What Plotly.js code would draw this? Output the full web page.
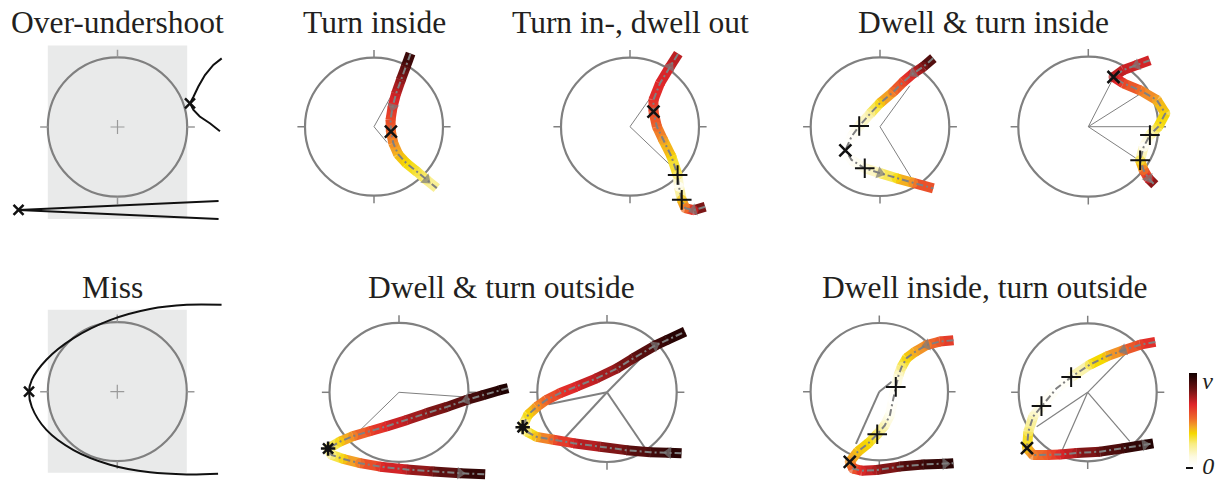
<!DOCTYPE html>
<html><head><meta charset="utf-8">
<script src="https://cdn.plot.ly/plotly-3.0.1.min.js"></script>
<style>html,body{margin:0;padding:0;background:#fff}#chart{width:1226px;height:481px}</style>
</head><body><div id="chart"></div>
<script>
// ================= DATA (unit = target circle radius) =================
const titles = ['Over-undershoot','Turn inside','Turn in-, dwell out','Dwell & turn inside','Miss','Dwell & turn outside','Dwell inside, turn outside'];

// Over-undershoot
const overArcX = [1.495,1.375,1.255,1.16,1.09,1.04,1.09,1.18,1.33,1.47];
const overArcY = [0.985,0.89,0.745,0.58,0.435,0.34,0.245,0.15,0.05,-0.06];
const underX = [1.45,-1.42,1.45];
const underY = [-1.06,-1.19,-1.32];
const overMarkX = [1.04,-1.42];
const overMarkY = [0.34,-1.19];
const overBoxX = [-1,1];
const overBoxY = [-1.32,1.17];

// Miss
const missX = [1.50,1.00,0.47,-0.105,-0.63,-1.02,-1.23,-1.27,-1.23,-1.02,-0.63,-0.105,0.47,1.00,1.45];
const missY = [1.25,1.25,1.19,1.03,0.77,0.46,0.17,0,-0.22,-0.55,-0.84,-1.05,-1.16,-1.19,-1.18];
const missMarkX = [-1.27];
const missMarkY = [0];
const missBoxX = [-1,1];
const missBoxY = [-1.165,1.18];

// Turn inside
const tiX = [0.53,0.46,0.39,0.32,0.27,0.24,0.245,0.28,0.35,0.47,0.62,0.76,0.91];
const tiY = [1.06,0.87,0.68,0.48,0.29,0.10,-0.07,-0.24,-0.40,-0.53,-0.65,-0.77,-0.89];
const tiV = [0.97,0.87,0.78,0.70,0.64,0.58,0.52,0.46,0.40,0.35,0.30,0.24,0.18];
const tiCrossX = [0.245], tiCrossY = [-0.07];
const tiSpokeX = [0.256,0.19], tiSpokeY = [0.46,-0.23];
const tiArrows = [4,11];

// Turn in-, dwell out
const tdX = [1.09,0.92,0.80,0.75,0.71,0.69,0.60,0.48,0.39,0.34,0.34,0.435,0.58,0.70];
const tdY = [-1.16,-1.21,-1.18,-1.06,-0.87,-0.70,-0.43,-0.19,0,0.22,0.39,0.63,0.87,1.06];
const tdV = [0.95,0.66,0.5,0.38,0.0,0.25,0.36,0.44,0.52,0.58,0.64,0.66,0.68,0.74];
const tdCrossX = [0.34], tdCrossY = [0.22];
const tdPlusX = [0.75,0.69], tdPlusY = [-1.06,-0.70];
const tdSpokeX = [0.31,0.65], tdSpokeY = [0.44,-0.62];
const tdArrows = [1,12];

// Dwell & turn inside (left)
const daX = [0.77,0.625,0.48,0.34,0.19,0,-0.14,-0.30,-0.41,-0.50,-0.41,-0.22,0,0.24,0.48,0.77];
const daY = [0.99,0.865,0.77,0.65,0.50,0.34,0.19,0.01,-0.14,-0.34,-0.48,-0.60,-0.67,-0.745,-0.81,-0.89];
const daV = [0.95,0.8,0.68,0.6,0.5,0.36,0.2,0.08,0.02,0,0.02,0.08,0.2,0.35,0.47,0.66];
const daCrossX = [-0.50], daCrossY = [-0.34];
const daPlusX = [-0.30,-0.22], daPlusY = [0.01,-0.60];
const daSpokeX = [0.43,0.47], daSpokeY = [0.59,-0.77];
const daArrows = [2,12];

// Dwell & turn inside (right)
const dbX = [0.88,0.69,0.50,0.36,0.50,0.74,0.98,1.10,1.0,0.88,0.79,0.74,0.79,0.86,0.95];
const dbY = [0.95,0.88,0.81,0.71,0.62,0.52,0.38,0.19,0,-0.12,-0.29,-0.48,-0.62,-0.74,-0.83];
const dbV = [0.68,0.68,0.7,0.72,0.6,0.5,0.42,0.36,0.32,0.15,0.0,0.3,0.5,0.66,0.9];
const dbCrossX = [0.36], dbCrossY = [0.71];
const dbPlusX = [0.88,0.74], dbPlusY = [-0.12,-0.48];
const dbSpokeX = [0.36,0.76,1.0,0.74], dbSpokeY = [0.70,0.48,0,-0.49];
const dbArrows = [1,13];

// Dwell & turn outside (left)
const oaX = [1.57,1.45,1.21,0.97,0.69,0.40,0.11,-0.18,-0.42,-0.66,-0.85,-1.02,-0.97,-0.80,-0.56,-0.27,0.11,0.49,0.88,1.24];
const oaY = [0.06,0.03,-0.04,-0.11,-0.21,-0.30,-0.40,-0.49,-0.56,-0.63,-0.71,-0.81,-0.90,-0.96,-1.02,-1.07,-1.11,-1.14,-1.165,-1.18];
const oaV = [0.98,0.97,0.93,0.88,0.83,0.78,0.72,0.67,0.58,0.47,0.36,0.2,0.22,0.36,0.5,0.64,0.72,0.82,0.9,0.97];
const oaStarX = [-1.02], oaStarY = [-0.81];
const oaSpokeX = [1.0,-0.585], oaSpokeY = [-0.07,-0.57];
const oaArrows = [3,18];

// Dwell & turn outside (right)
const obX = [1.07,0.88,0.62,0.28,-0.10,-0.48,-0.77,-1.01,-1.15,-1.21,-1.19,-1.13,-1.01,-0.87,-0.67,-0.44,-0.15,0.14,0.38,0.69,0.86,1.12];
const obY = [-0.875,-0.866,-0.86,-0.83,-0.78,-0.73,-0.68,-0.64,-0.565,-0.50,-0.44,-0.32,-0.21,-0.11,-0.01,0.08,0.20,0.34,0.49,0.67,0.75,0.87];
const obV = [0.97,0.94,0.9,0.84,0.76,0.68,0.55,0.4,0.25,0.18,0.22,0.35,0.45,0.53,0.62,0.67,0.72,0.78,0.84,0.9,0.94,0.98];
const obStarX = [-1.21], obStarY = [-0.50];
const obSpokeX = [0.69,-0.84,-0.63,0.545], obSpokeY = [0.70,-0.17,-0.68,-0.80];
const obArrows = [1,19];

// Dwell inside, turn outside (left)
const iaX = [1.08,0.88,0.69,0.52,0.40,0.325,0.28,0.24,0.20,0.155,0.08,-0.03,-0.16,-0.31,-0.43,-0.38,-0.26,-0.04,0.30,0.64,0.96,1.08];
const iaY = [0.75,0.73,0.68,0.58,0.49,0.36,0.24,0.07,-0.12,-0.34,-0.49,-0.62,-0.75,-0.87,-1.02,-1.12,-1.15,-1.14,-1.09,-1.06,-1.05,-1.04];
const iaV = [0.66,0.56,0.48,0.42,0.36,0.25,0.12,0.05,0.0,0.05,0.15,0.25,0.35,0.38,0.45,0.55,0.65,0.75,0.85,0.92,0.95,0.97];
const iaCrossX = [-0.43], iaCrossY = [-1.02];
const iaPlusX = [0.24,-0.03], iaPlusY = [0.07,-0.62];
const iaSpokeX = [0.18,-0.34], iaSpokeY = [0.145,-0.76];
const iaArrows = [2,20];

// Dwell inside, turn outside (right)
const ibX = [0.98,0.76,0.52,0.275,0.03,-0.24,-0.45,-0.67,-0.79,-0.86,-0.88,-0.79,-0.59,-0.40,-0.16,0.18,0.52,0.83,0.95];
const ibY = [0.73,0.69,0.61,0.52,0.40,0.22,0.06,-0.20,-0.35,-0.57,-0.81,-0.91,-0.91,-0.90,-0.88,-0.86,-0.81,-0.76,-0.74];
const ibV = [0.68,0.6,0.5,0.4,0.3,0.05,0.0,0.05,0.15,0.25,0.38,0.48,0.55,0.66,0.75,0.85,0.92,0.96,0.98];
const ibCrossX = [-0.88], ibCrossY = [-0.81];
const ibPlusX = [-0.24,-0.67], ibPlusY = [0.22,-0.20];
const ibSpokeX = [0.61,-0.74,-0.38,0.61], ibSpokeY = [0.62,-0.50,-0.86,-0.71];
const ibArrows = [2,17];

// colour bar
const cbTickVals = [0, 0.92];
const cbTickText = ['0','v'];

// ================= STYLE / LAYOUT =================
const W = 1226, H = 481;
const GRAY = '#808080';
const speedScale = [[0,'#ffffff'],[0.1,'#fdfae0'],[0.24,'#f8ec80'],[0.35,'#f5d800'],[0.42,'#f3a825'],[0.51,'#ef6a2a'],[0.66,'#e0262a'],[0.82,'#701414'],[1,'#120000']];
const FONT = 'Liberation Serif, Times New Roman, serif';
const BAND = 10;

// panel placement in pixels (centre and radius)
const panels = [
  {cx:117.5, cy:127,   R:69.7, box:[overBoxX, overBoxY], center:true},
  {cx:374,   cy:126.7, R:69},
  {cx:630,   cy:126.7, R:69},
  {cx:880,   cy:126.7, R:69.3},
  {cx:1088.3,cy:126.7, R:70},
  {cx:117.3, cy:391.7, R:69.5, box:[missBoxX, missBoxY], center:true},
  {cx:399,   cy:392.3, R:69.5},
  {cx:607,   cy:392.3, R:69.7},
  {cx:879.3, cy:391.7, R:68.7},
  {cx:1087.7,cy:392.3, R:69}
];

const trajectories = [
  {p:1, x:tiX, y:tiY, v:tiV, arrows:tiArrows, cross:[tiCrossX,tiCrossY], spokes:[tiSpokeX,tiSpokeY], sw:1},
  {p:2, x:tdX, y:tdY, v:tdV, arrows:tdArrows, cross:[tdCrossX,tdCrossY], plus:[tdPlusX,tdPlusY], spokes:[tdSpokeX,tdSpokeY], sw:1},
  {p:3, x:daX, y:daY, v:daV, arrows:daArrows, cross:[daCrossX,daCrossY], plus:[daPlusX,daPlusY], spokes:[daSpokeX,daSpokeY], sw:1},
  {p:4, x:dbX, y:dbY, v:dbV, arrows:dbArrows, cross:[dbCrossX,dbCrossY], plus:[dbPlusX,dbPlusY], spokes:[dbSpokeX,dbSpokeY], sw:1},
  {p:6, x:oaX, y:oaY, v:oaV, arrows:oaArrows, star:[oaStarX,oaStarY], spokes:[oaSpokeX,oaSpokeY], sw:1},
  {p:7, x:obX, y:obY, v:obV, arrows:obArrows, star:[obStarX,obStarY], spokes:[obSpokeX,obSpokeY], sw:2},
  {p:8, x:iaX, y:iaY, v:iaV, arrows:iaArrows, cross:[iaCrossX,iaCrossY], plus:[iaPlusX,iaPlusY], spokes:[iaSpokeX,iaSpokeY], sw:2},
  {p:9, x:ibX, y:ibY, v:ibV, arrows:ibArrows, cross:[ibCrossX,ibCrossY], plus:[ibPlusX,ibPlusY], spokes:[ibSpokeX,ibSpokeY], sw:1.2}
];

function hexToRgb(h){return [parseInt(h.substr(1,2),16),parseInt(h.substr(3,2),16),parseInt(h.substr(5,2),16)];}
function colorAt(v){
  v = Math.max(0, Math.min(1, v));
  for (let i=0;i<speedScale.length-1;i++){
    const a=speedScale[i], b=speedScale[i+1];
    if (v<=b[0]){
      const t=(v-a[0])/(b[0]-a[0]); const ca=hexToRgb(a[1]), cb=hexToRgb(b[1]);
      return 'rgb('+ca.map((c,k)=>Math.round(c+(cb[k]-c)*t)).join(',')+')';
    }
  }
  return speedScale[speedScale.length-1][1];
}

const layout = {
  width:W, height:H, margin:{l:0,r:0,t:0,b:0}, paper_bgcolor:'#fff', plot_bgcolor:'rgba(0,0,0,0)',
  showlegend:false, shapes:[], annotations:[]
};
function axName(i){return i===0?'':String(i+1);}

panels.forEach((pn,i)=>{
  const l=Math.max(0,pn.cx-1.8*pn.R), r=Math.min(W,pn.cx+1.8*pn.R);
  const t=Math.max(0,pn.cy-1.5*pn.R), b=Math.min(H,pn.cy+1.5*pn.R);
  const n=axName(i);
  layout['xaxis'+n]={domain:[l/W,r/W], range:[(l-pn.cx)/pn.R,(r-pn.cx)/pn.R], visible:false, fixedrange:true, anchor:'y'+n};
  layout['yaxis'+n]={domain:[1-b/H,1-t/H], range:[(pn.cy-b)/pn.R,(pn.cy-t)/pn.R], visible:false, fixedrange:true, anchor:'x'+n};
  const xr='x'+n, yr='y'+n;
  if (pn.box){
    layout.shapes.push({type:'rect', xref:xr, yref:yr, x0:pn.box[0][0], x1:pn.box[0][1], y0:pn.box[1][0], y1:pn.box[1][1], fillcolor:'#e9eaea', line:{width:0}, layer:'below'});
  }
  layout.shapes.push({type:'circle', xref:xr, yref:yr, x0:-1, x1:1, y0:-1, y1:1, line:{color:GRAY, width:2.2}, layer:'below'});
  const tc = pn.box ? '#9a9a9a' : GRAY;
  [[0,1],[0,-1],[1,0],[-1,0]].forEach(d=>{
    layout.shapes.push({type:'line', xref:xr, yref:yr, x0:d[0], y0:d[1], x1:d[0]*1.11, y1:d[1]*1.11, line:{color:tc, width:1.5}, layer:'below'});
  });
  if (pn.center){
    layout.shapes.push({type:'line', xref:xr, yref:yr, x0:-0.1, x1:0.1, y0:0, y1:0, line:{color:'#9a9a9a', width:1.2}, layer:'below'});
    layout.shapes.push({type:'line', xref:xr, yref:yr, x0:0, x1:0, y0:-0.1, y1:0.1, line:{color:'#9a9a9a', width:1.2}, layer:'below'});
  }
});

// titles
const titlePos = [[117.3,22],[374,22],[630,22],[983,22],[112.5,287],[501,287],[984,287]];
titles.forEach((tx,i)=>{
  layout.annotations.push({text:tx, xref:'paper', yref:'paper', x:titlePos[i][0]/W, y:1-titlePos[i][1]/H, xanchor:'center', yanchor:'middle', showarrow:false, font:{family:FONT, size:31.5, color:'#231f20'}});
});
// little dash beside the colour bar bottom
layout.shapes.push({type:'line', xref:'paper', yref:'paper', x0:1186/W, x1:1193/W, y0:1-468/H, y1:1-468/H, line:{color:'#111', width:2}});

const traces = [];
function ax(i){const n=axName(i);return {xaxis:'x'+n, yaxis:'y'+n};}

// black curves for the two schematic panels
traces.push(Object.assign({x:overArcX, y:overArcY, mode:'lines', line:{color:'#111', width:2}, hoverinfo:'skip'}, ax(0)));
traces.push(Object.assign({x:underX, y:underY, mode:'lines', line:{color:'#111', width:2}, hoverinfo:'skip'}, ax(0)));
traces.push(Object.assign({x:overMarkX, y:overMarkY, mode:'markers', marker:{symbol:'x-thin', size:10, line:{width:2.5, color:'#111'}}, hoverinfo:'skip'}, ax(0)));
traces.push(Object.assign({x:missX, y:missY, mode:'lines', line:{color:'#111', width:2, shape:'spline'}, hoverinfo:'skip'}, ax(5)));
traces.push(Object.assign({x:missMarkX, y:missMarkY, mode:'markers', marker:{symbol:'x-thin', size:10, line:{width:2.5, color:'#111'}}, hoverinfo:'skip'}, ax(5)));

trajectories.forEach(tr=>{
  const a = ax(tr.p);
  // spokes from the centre
  const sx=[], sy=[];
  tr.spokes[0].forEach((v,k)=>{sx.push(0,v,null); sy.push(0,tr.spokes[1][k],null);});
  traces.push(Object.assign({x:sx, y:sy, mode:'lines', line:{color:GRAY, width:tr.sw}, hoverinfo:'skip'}, a));
  // speed coloured band
  for (let k=0;k<tr.x.length-1;k++){
    traces.push(Object.assign({x:[tr.x[k],tr.x[k+1]], y:[tr.y[k],tr.y[k+1]], mode:'lines',
      line:{color:colorAt((tr.v[k]+tr.v[k+1])/2), width:BAND}, hoverinfo:'skip'}, a));
  }
  const sizes = tr.x.map((_,k)=> (k===0||k===tr.x.length-1)?0:BAND);
  traces.push(Object.assign({x:tr.x, y:tr.y, mode:'markers', marker:{color:tr.v, colorscale:speedScale, cmin:0, cmax:1, size:sizes, line:{width:0}}, hoverinfo:'skip'}, a));
  // dash-dot centre line
  traces.push(Object.assign({x:tr.x, y:tr.y, mode:'lines', line:{color:GRAY, width:2, dash:'7px,3px,2px,3px'}, hoverinfo:'skip'}, a));
  // direction arrows
  tr.arrows.forEach(ix=>{
    traces.push(Object.assign({x:[tr.x[ix-1],tr.x[ix]], y:[tr.y[ix-1],tr.y[ix]], mode:'markers',
      marker:{symbol:'triangle-up', size:[0,11], color:'#7a7a7a', angleref:'previous', line:{width:0}}, hoverinfo:'skip'}, a));
  });
  if (tr.cross) traces.push(Object.assign({x:tr.cross[0], y:tr.cross[1], mode:'markers', marker:{symbol:'x-thin', size:12, line:{width:2.5, color:'#111'}}, hoverinfo:'skip'}, a));
  if (tr.plus) traces.push(Object.assign({x:tr.plus[0], y:tr.plus[1], mode:'markers', marker:{symbol:'cross-thin', size:14, line:{width:2, color:'#111'}}, hoverinfo:'skip'}, a));
  if (tr.star) traces.push(Object.assign({x:tr.star[0], y:tr.star[1], mode:'markers', marker:{symbol:'asterisk', size:12, line:{width:2.5, color:'#111'}}, hoverinfo:'skip'}, a));
});

// colour bar carrier
traces.push(Object.assign({x:[0], y:[0], mode:'markers', hoverinfo:'skip',
  marker:{color:[0], colorscale:speedScale, cmin:0, cmax:1, size:1, opacity:0, showscale:true,
    colorbar:{x:1189/W, xanchor:'left', xpad:0, y:1-419.5/H, yanchor:'middle', ypad:0, len:93, lenmode:'pixels',
      thickness:8, thicknessmode:'pixels', outlinewidth:0, tickvals:cbTickVals, ticktext:cbTickText.map(t=>'<i>'+t+'</i>'),
      ticks:'', tickfont:{family:FONT, size:24, color:'#231f20'}}}}, ax(9)));

Plotly.newPlot('chart', traces, layout, {displayModeBar:false, staticPlot:true});
</script></body></html>
